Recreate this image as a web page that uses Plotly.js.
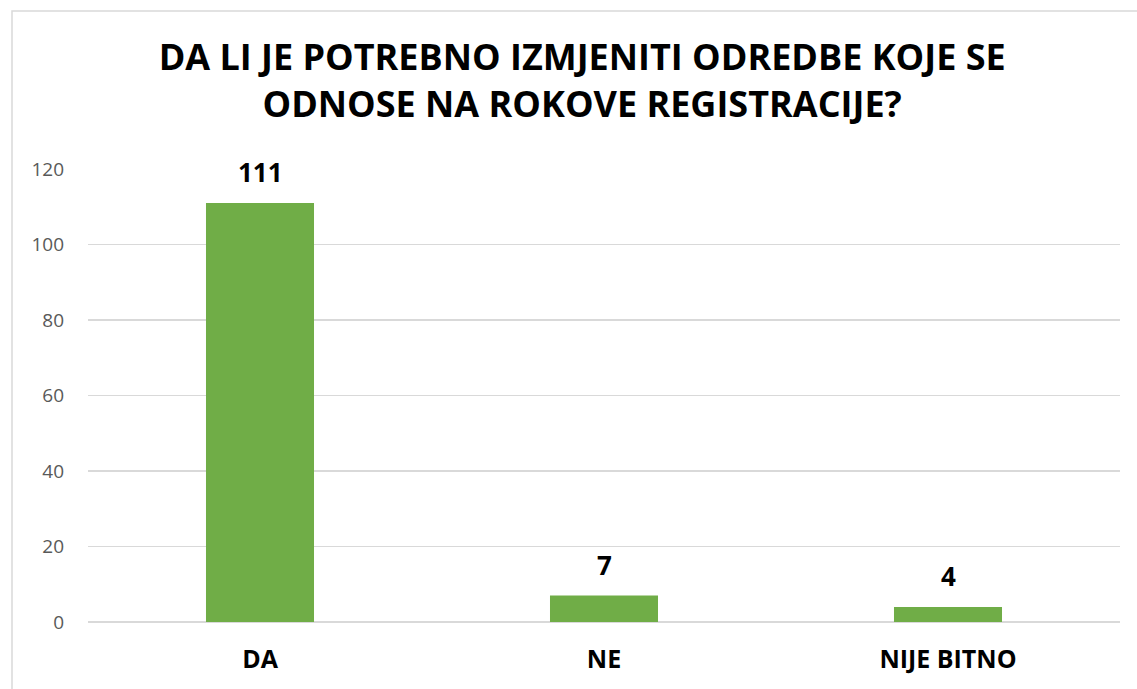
<!DOCTYPE html>
<html>
<head>
<meta charset="utf-8">
<script src="https://cdn.plot.ly/plotly-3.0.1.min.js"></script>
<style>html,body{margin:0;padding:0;background:#fff;}#chart{width:1137px;height:689px;}</style>
</head>
<body>
<div id="chart"></div>
<script>
const categories = ["DA", "NE", "NIJE BITNO"];
const values = [111, 7, 4];
const yTicks = [0, 20, 40, 60, 80, 100, 120];
const chartTitle = "DA LI JE POTREBNO IZMJENITI ODREDBE KOJE SE<br>ODNOSE NA ROKOVE REGISTRACIJE?";

const font = "Open Sans, Noto Sans, sans-serif";

const trace = {
  type: "bar",
  x: categories,
  y: values,
  marker: {color: "#70AD47"},
  width: 0.314,
  hoverinfo: "skip"
};

const annotations = categories.map((c, i) => ({
  x: c, y: values[i], xref: "x", yref: "y",
  text: "<b>" + values[i] + "</b>",
  showarrow: false, yanchor: "bottom", yshift: 11,
  font: {family: font, size: 26, color: "#000"}
}));

const layout = {
  width: 1137, height: 689,
  margin: {l: 88, r: 17, t: 169, b: 67},
  paper_bgcolor: "#fff", plot_bgcolor: "#fff",
  showlegend: false,
  title: {
    text: "<b>" + chartTitle + "</b>",
    xref: "container", yref: "container",
    x: 0.512, xanchor: "center",
    y: 1 - 70/689, yanchor: "top",
    font: {family: font, size: 36, color: "#000"}
  },
  xaxis: {
    type: "category",
    showgrid: false, zeroline: false, showline: false,
    ticks: "", tickfont: {family: font, size: 25, color: "#000", weight: "bold"},
    ticklabelstandoff: 20
  },
  yaxis: {
    range: [0, 120], tickvals: yTicks, ticktext: yTicks.map(String),
    showgrid: true, gridcolor: "#d9d9d9", gridwidth: 1.3,
    zeroline: true, zerolinecolor: "#d9d9d9", zerolinewidth: 1.3,
    showline: false, ticks: "",
    tickfont: {family: font, size: 19, color: "#595959"},
    ticklabelstandoff: 23
  },
  annotations: annotations,
  shapes: [{
    type: "rect", xref: "paper", yref: "paper",
    x0: (12 - 88) / 1032, x1: 1.05,
    y0: -0.2, y1: (622 - 11) / 453,
    line: {color: "#d9d9d9", width: 1.5}, fillcolor: "rgba(0,0,0,0)", layer: "below"
  }]
};

Plotly.newPlot("chart", [trace], layout, {displayModeBar: false, staticPlot: true});
</script>
</body>
</html>
